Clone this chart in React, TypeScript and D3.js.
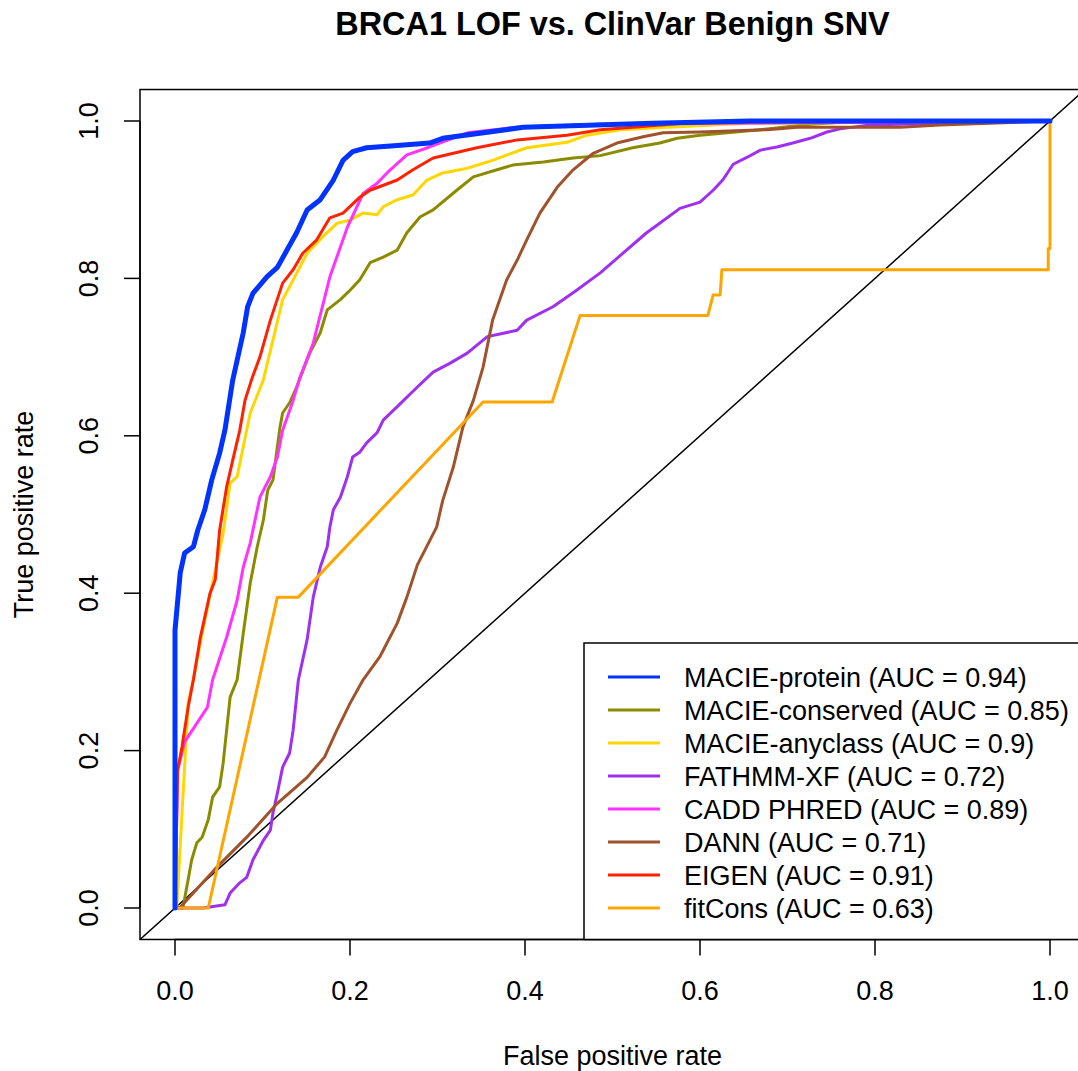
import React from "react";
import * as d3 from "d3";

type Pt = [number, number];

const title = "BRCA1 LOF vs. ClinVar Benign SNV";
const xLabel = "False positive rate";
const yLabel = "True positive rate";
const xTicks = [0, 0.2, 0.4, 0.6, 0.8, 1.0];
const yTicks = [0, 0.2, 0.4, 0.6, 0.8, 1.0];

const macieProtein: Pt[] = [
  [0, 0], [0, 0.353], [0.006, 0.426], [0.011, 0.451], [0.021, 0.459], [0.026, 0.48],
  [0.034, 0.506], [0.042, 0.544], [0.051, 0.578], [0.057, 0.607], [0.066, 0.671],
  [0.078, 0.731], [0.083, 0.764], [0.089, 0.781], [0.105, 0.802], [0.117, 0.814],
  [0.128, 0.836], [0.139, 0.858], [0.151, 0.887], [0.166, 0.9], [0.181, 0.925],
  [0.192, 0.95], [0.203, 0.961], [0.219, 0.966], [0.254, 0.969], [0.291, 0.972],
  [0.306, 0.978], [0.398, 0.992], [0.546, 0.997], [0.657, 1.0], [1, 1],
];

const macieConserved: Pt[] = [
  [0, 0], [0.009, 0], [0.015, 0.036], [0.019, 0.061], [0.025, 0.083], [0.031, 0.09],
  [0.038, 0.112], [0.043, 0.141], [0.051, 0.154], [0.055, 0.184], [0.059, 0.226],
  [0.063, 0.268], [0.071, 0.29], [0.078, 0.349], [0.086, 0.413], [0.094, 0.459],
  [0.101, 0.493], [0.106, 0.531], [0.112, 0.544], [0.117, 0.586], [0.12, 0.611],
  [0.123, 0.629], [0.131, 0.642], [0.139, 0.662], [0.154, 0.705], [0.166, 0.731],
  [0.174, 0.76], [0.189, 0.773], [0.2, 0.785], [0.211, 0.798], [0.223, 0.82],
  [0.238, 0.827], [0.254, 0.836], [0.265, 0.858], [0.28, 0.878], [0.295, 0.887],
  [0.322, 0.912], [0.341, 0.929], [0.368, 0.938], [0.386, 0.944], [0.421, 0.948],
  [0.455, 0.953], [0.486, 0.956], [0.523, 0.966], [0.554, 0.972], [0.574, 0.978],
  [0.6, 0.982], [0.669, 0.989], [0.695, 0.992], [0.726, 0.996], [0.771, 0.999], [1, 1],
];

const macieAnyclass: Pt[] = [
  [0, 0], [0.002, 0], [0.015, 0.26], [0.021, 0.29], [0.031, 0.349], [0.042, 0.408],
  [0.055, 0.476], [0.063, 0.54], [0.071, 0.548], [0.078, 0.586], [0.086, 0.629],
  [0.101, 0.671], [0.112, 0.722], [0.123, 0.773], [0.135, 0.798], [0.151, 0.832],
  [0.169, 0.853], [0.185, 0.87], [0.2, 0.874], [0.215, 0.883], [0.231, 0.881],
  [0.238, 0.891], [0.254, 0.9], [0.272, 0.906], [0.288, 0.925], [0.306, 0.934],
  [0.334, 0.94], [0.363, 0.95], [0.402, 0.966], [0.448, 0.973], [0.471, 0.982],
  [0.509, 0.989], [0.562, 0.992], [0.657, 0.997], [1, 1],
];

const fathmmXf: Pt[] = [
  [0, 0], [0.032, 0], [0.057, 0.004], [0.063, 0.019], [0.074, 0.032], [0.082, 0.039],
  [0.089, 0.061], [0.101, 0.086], [0.109, 0.099], [0.112, 0.121], [0.117, 0.146],
  [0.123, 0.179], [0.131, 0.197], [0.135, 0.226], [0.141, 0.29], [0.151, 0.341],
  [0.158, 0.395], [0.166, 0.433], [0.174, 0.459], [0.177, 0.484], [0.181, 0.506],
  [0.189, 0.522], [0.197, 0.548], [0.203, 0.573], [0.211, 0.579], [0.219, 0.591],
  [0.231, 0.604], [0.238, 0.62], [0.254, 0.637], [0.277, 0.662], [0.295, 0.681],
  [0.314, 0.692], [0.334, 0.705], [0.357, 0.726], [0.391, 0.734], [0.402, 0.747],
  [0.432, 0.764], [0.459, 0.785], [0.486, 0.807], [0.512, 0.832], [0.539, 0.858],
  [0.554, 0.87], [0.577, 0.889], [0.6, 0.897], [0.615, 0.912], [0.626, 0.925],
  [0.638, 0.945], [0.654, 0.954], [0.669, 0.963], [0.688, 0.967], [0.706, 0.972],
  [0.726, 0.978], [0.745, 0.986], [0.76, 0.99], [0.794, 0.995], [0.943, 0.999], [1, 1],
];

const caddPhred: Pt[] = [
  [0, 0], [0.003, 0.175], [0.011, 0.211], [0.037, 0.255], [0.043, 0.29], [0.059, 0.344],
  [0.071, 0.391], [0.078, 0.433], [0.086, 0.464], [0.097, 0.522], [0.109, 0.548],
  [0.117, 0.573], [0.123, 0.607], [0.135, 0.645], [0.143, 0.675], [0.158, 0.718],
  [0.177, 0.802], [0.197, 0.865], [0.215, 0.908], [0.231, 0.921], [0.246, 0.938],
  [0.265, 0.957], [0.291, 0.967], [0.334, 0.985], [0.391, 0.992], [0.486, 0.996], [1, 1],
];

const dann: Pt[] = [
  [0, 0], [0.006, 0.001], [0.048, 0.052], [0.082, 0.09], [0.117, 0.133], [0.151, 0.166],
  [0.171, 0.192], [0.185, 0.226], [0.2, 0.26], [0.215, 0.29], [0.234, 0.319],
  [0.254, 0.362], [0.265, 0.395], [0.277, 0.436], [0.299, 0.484], [0.306, 0.518],
  [0.318, 0.56], [0.329, 0.611], [0.341, 0.645], [0.352, 0.687], [0.363, 0.747],
  [0.379, 0.798], [0.391, 0.823], [0.402, 0.849], [0.417, 0.883], [0.437, 0.916],
  [0.455, 0.938], [0.478, 0.959], [0.505, 0.972], [0.535, 0.98], [0.558, 0.985],
  [0.6, 0.986], [0.677, 0.989], [0.711, 0.992], [0.829, 0.992], [0.874, 0.995],
  [0.931, 0.997], [1, 1],
];

const eigen: Pt[] = [
  [0, 0], [0.003, 0.175], [0.008, 0.205], [0.015, 0.255], [0.021, 0.29], [0.029, 0.344],
  [0.04, 0.4], [0.046, 0.417], [0.051, 0.48], [0.059, 0.535], [0.066, 0.569],
  [0.074, 0.607], [0.08, 0.645], [0.088, 0.673], [0.097, 0.7], [0.109, 0.747],
  [0.123, 0.794], [0.135, 0.811], [0.146, 0.832], [0.162, 0.849], [0.177, 0.877],
  [0.192, 0.883], [0.211, 0.903], [0.223, 0.912], [0.254, 0.925], [0.272, 0.938],
  [0.295, 0.953], [0.345, 0.966], [0.391, 0.976], [0.448, 0.982], [0.486, 0.989],
  [0.523, 0.992], [0.581, 0.997], [0.657, 0.999], [1, 1],
];

const fitCons: Pt[] = [
  [0, 0], [0.038, 0], [0.117, 0.395], [0.141, 0.395], [0.352, 0.643], [0.431, 0.643],
  [0.463, 0.753], [0.609, 0.753], [0.615, 0.779], [0.623, 0.779], [0.625, 0.811],
  [0.998, 0.811], [0.998, 0.838], [1.0, 0.838], [1.0, 0.916], [1, 1],
];

const seriesNames = [
  "MACIE-protein", "MACIE-conserved", "MACIE-anyclass", "FATHMM-XF",
  "CADD PHRED", "DANN", "EIGEN", "fitCons",
];
const aucValues = ["0.94", "0.85", "0.9", "0.72", "0.89", "0.71", "0.91", "0.63"];
const seriesData: Pt[][] = [
  macieProtein, macieConserved, macieAnyclass, fathmmXf, caddPhred, dann, eigen, fitCons,
];
const seriesColors = [
  "#0033FF", "#8B8B00", "#FFD700", "#A030F0", "#FF33FF", "#A0522D", "#FF2200", "#FFA500",
];
const seriesWidths = [5, 3, 3, 3, 3, 3, 3, 3];
const drawOrder = [1, 2, 3, 4, 5, 6, 7, 0];

const W = 1078;
const H = 1071;
const FONT = "'Liberation Sans', Arial, Helvetica, sans-serif";

export default function App() {
  const sx = d3.scaleLinear().domain([0, 1]).range([175, 1050]);
  const sy = d3.scaleLinear().domain([0, 1]).range([908, 121]);
  const x0 = sx(-0.04), x1 = sx(1.04);
  const y0 = sy(-0.04), y1 = sy(1.04);
  const line = d3.line<Pt>().x((d) => sx(d[0])).y((d) => sy(d[1]));

  const legX = 584, legY = 643;
  const rowH = 33;
  const firstRow = legY + 34;

  return (
    <svg
      width={W}
      height={H}
      style={{ position: "absolute", left: 0, top: 0, display: "block", background: "#fff" }}
      fontFamily={FONT}
    >
      <rect x={0} y={0} width={W} height={H} fill="#fff" />
      <defs>
        <clipPath id="plotclip">
          <rect x={x0} y={y1} width={x1 - x0} height={y0 - y1} />
        </clipPath>
      </defs>

      <text x={(x0 + x1) / 2} y={35} textAnchor="middle" fontSize={32.4} fontWeight="bold">
        {title}
      </text>

      <g clipPath="url(#plotclip)">
        <line
          x1={sx(-0.04)} y1={sy(-0.04)} x2={sx(1.04)} y2={sy(1.04)}
          stroke="#000" strokeWidth={1.5}
        />
        {drawOrder.map((i) => (
          <path
            key={seriesNames[i]}
            d={line(seriesData[i]) || ""}
            fill="none"
            stroke={seriesColors[i]}
            strokeWidth={seriesWidths[i]}
            strokeLinejoin="round"
            strokeLinecap="round"
          />
        ))}
      </g>

      <rect x={x0} y={y1} width={x1 - x0} height={y0 - y1} fill="none" stroke="#000" strokeWidth={1.5} />

      {/* x axis */}
      <line x1={sx(0)} x2={sx(1)} y1={y0} y2={y0} stroke="#000" strokeWidth={1.5} />
      {xTicks.map((t) => (
        <g key={"xt" + t}>
          <line x1={sx(t)} x2={sx(t)} y1={y0} y2={y0 + 16} stroke="#000" strokeWidth={1.5} />
          <text x={sx(t)} y={1000} textAnchor="middle" fontSize={27}>
            {t.toFixed(1)}
          </text>
        </g>
      ))}
      <text x={(x0 + x1) / 2} y={1065} textAnchor="middle" fontSize={27}>
        {xLabel}
      </text>

      {/* y axis */}
      <line x1={x0} x2={x0} y1={sy(0)} y2={sy(1)} stroke="#000" strokeWidth={1.5} />
      {yTicks.map((t) => (
        <g key={"yt" + t}>
          <line x1={x0 - 16} x2={x0} y1={sy(t)} y2={sy(t)} stroke="#000" strokeWidth={1.5} />
          <text
            x={98}
            y={sy(t)}
            textAnchor="middle"
            fontSize={27}
            transform={`rotate(-90, 98, ${sy(t)})`}
          >
            {t.toFixed(1)}
          </text>
        </g>
      ))}
      <text
        x={33}
        y={(y0 + y1) / 2}
        textAnchor="middle"
        fontSize={27}
        transform={`rotate(-90, 33, ${(y0 + y1) / 2})`}
      >
        {yLabel}
      </text>

      {/* legend */}
      <rect x={legX} y={legY} width={x1 - legX} height={y0 - legY} fill="#fff" stroke="#000" strokeWidth={1.5} />
      {seriesNames.map((name, i) => {
        const cy = firstRow + i * rowH;
        return (
          <g key={"lg" + name}>
            <line x1={608} x2={660} y1={cy} y2={cy} stroke={seriesColors[i]} strokeWidth={3} />
            <text x={684} y={cy + 10} fontSize={27}>
              {`${name} (AUC = ${aucValues[i]})`}
            </text>
          </g>
        );
      })}
    </svg>
  );
}
